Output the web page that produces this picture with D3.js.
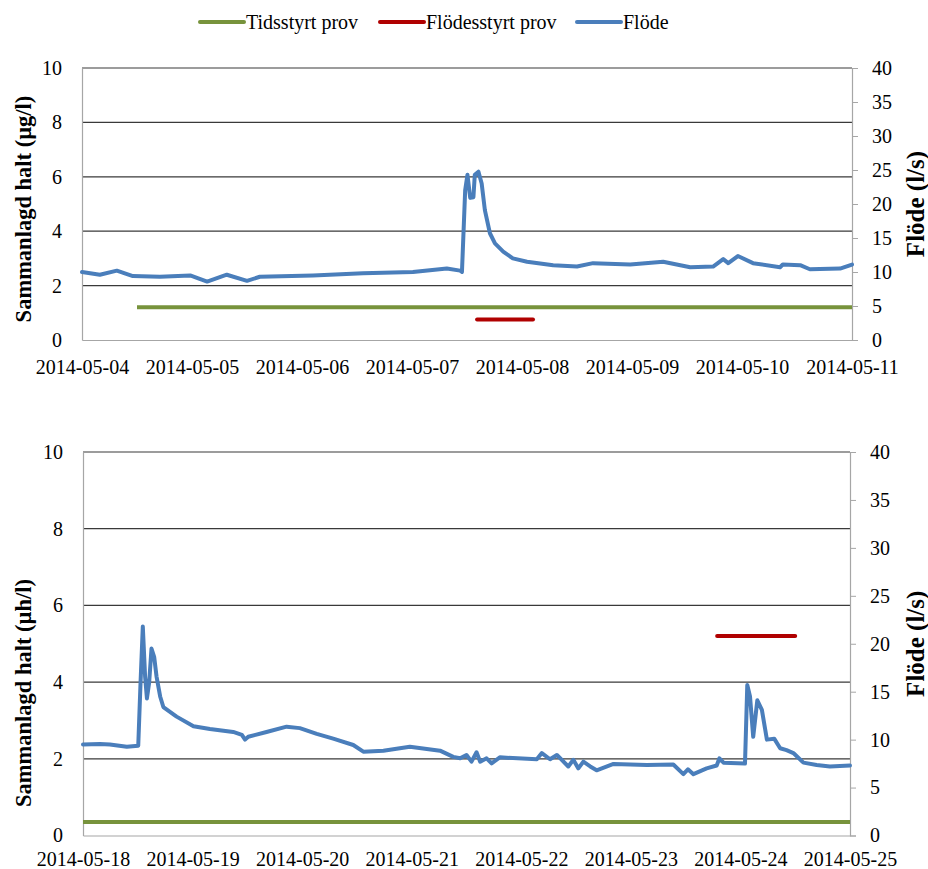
<!DOCTYPE html>
<html><head><meta charset="utf-8">
<script src="https://cdn.jsdelivr.net/npm/d3@7"></script>
<style>body{margin:0;background:#fff}svg{display:block}</style>
</head><body><svg id="c" width="928" height="869"></svg>
<script>
const legendLabels = ["Tidsstyrt prov", "Flödesstyrt prov", "Flöde"];
const seriesColors = ["#77933C", "#B00000", "#4A7EBB"];
const leftTicks = [0, 2, 4, 6, 8, 10];
const rightTicks = [0, 5, 10, 15, 20, 25, 30, 35, 40];
const topStart = "2014-05-04", bottomStart = "2014-05-18";
const topTitleLeft = "Sammanlagd halt  (µg/l)", bottomTitleLeft = "Sammanlagd halt  (µh/l)";
const titleRight = "Flöde (l/s)";

// Top period: hours from 2014-05-04 00:00, flow in l/s
const topFlowHours = [0,3.9,7.6,11.1,17,23.6,27.3,31.6,36,38.8,50.4,61.3,72.2,79.6,82.5,82.9,83.6,84.1,84.7,85.4,85.7,86.5,87.2,87.9,89,90.1,91.9,94,97.1,102.8,108,111.5,119.6,126.8,132.7,137.7,139.9,141,143.1,146.4,152.3,152.9,156.7,158.8,165.4,168];
const topFlowValues = [10.0,9.6,10.2,9.4,9.3,9.5,8.6,9.6,8.7,9.3,9.5,9.8,10.0,10.5,10.2,10.0,22,24.3,20.9,21,24.3,24.75,23,19.1,15.7,14.2,13.0,12.0,11.5,11.0,10.8,11.3,11.1,11.5,10.7,10.8,11.9,11.3,12.35,11.3,10.7,11.1,11.0,10.4,10.5,11.1];
const topTimedHours = [12, 168], topTimedValues = [1.2, 1.2];
const topFlowSampleHours = [86.2, 98.4], topFlowSampleValues = [0.75, 0.75];

// Bottom period: hours from 2014-05-18 00:00
const botFlowHours = [0,3.7,5.9,9.6,12.1,12.6,13.1,13.6,14.0,14.5,15.0,15.6,16.1,16.9,17.6,20.5,24.2,27.8,32.9,34.8,35.5,36.2,40.2,44.6,47.5,51.2,54.8,59.2,61.4,65.8,69.4,71.6,78.2,81.1,82.6,84.0,85.1,86.2,87.0,88.4,89.5,91.3,99.4,100.5,102.3,103.8,106.3,107.4,108.5,109.6,111.1,112.5,116.2,123.5,129.3,131.5,132.5,133.7,136.6,138.8,139.4,140.3,145.0,145.5,146.1,146.8,147.7,148.7,149.8,151.4,152.7,154.1,155.6,157.8,160.7,163.6,168];
const botFlowValues = [9.5,9.54,9.5,9.26,9.37,15.9,21.8,16.6,14.3,16.0,19.5,18.6,16.6,14.5,13.4,12.4,11.4,11.1,10.8,10.5,10.0,10.3,10.8,11.35,11.2,10.6,10.1,9.44,8.74,8.85,9.1,9.26,8.85,8.2,8.05,8.4,7.7,8.68,7.7,8.05,7.53,8.15,7.95,8.6,7.95,8.4,7.2,7.9,7.0,7.7,7.2,6.8,7.46,7.35,7.4,6.4,6.9,6.4,7.0,7.3,8.05,7.6,7.5,15.7,14.5,10.3,14.1,13.1,10.0,10.1,9.1,8.9,8.6,7.6,7.35,7.2,7.3];
const botTimedHours = [0, 168], botTimedValues = [0.35, 0.35];
const botFlowSampleHours = [138.9, 156.0], botFlowSampleValues = [5.2, 5.2];

const svg = d3.select("#c");
const FONT = "'Liberation Serif','Times New Roman',serif";
const parse = d3.utcParse("%Y-%m-%d");
const fmt = d3.utcFormat("%Y-%m-%d");

function panel(cfg) {
  const start = parse(cfg.start);
  const toDate = h => new Date(start.getTime() + h * 3600e3);
  const x = d3.scaleUtc().domain([start, d3.utcDay.offset(start, 7)]).range([cfg.x0, cfg.x1]);
  const yL = d3.scaleLinear().domain([0, 10]).range([cfg.y0, cfg.y1]);
  const yR = d3.scaleLinear().domain([0, 40]).range([cfg.y0, cfg.y1]);
  const g = svg.append("g");

  // gridlines
  g.append("g").selectAll("line").data(leftTicks.filter(d => d > 0)).join("line")
    .attr("x1", cfg.x0).attr("x2", cfg.x1).attr("y1", d => yL(d)).attr("y2", d => yL(d))
    .attr("stroke", "#3a3a3a").attr("stroke-width", 1.2);

  // left axis
  const la = g.append("g").attr("transform", `translate(${cfg.x0},0)`)
    .call(d3.axisLeft(yL).tickValues(leftTicks).tickSize(0).tickPadding(20));
  la.select(".domain").attr("stroke", "#a6a6a6").attr("stroke-width", 1.2);
  la.selectAll("text").attr("font-family", FONT).attr("font-size", 20).attr("fill", "#000");

  // right axis
  const ra = g.append("g").attr("transform", `translate(${cfg.x1},0)`)
    .call(d3.axisRight(yR).tickValues(rightTicks).tickSize(6).tickPadding(14));
  ra.select(".domain").attr("stroke", "#a6a6a6").attr("stroke-width", 1.2);
  ra.selectAll(".tick line").attr("stroke", "#a6a6a6");
  ra.selectAll("text").attr("font-family", FONT).attr("font-size", 20).attr("fill", "#000");

  // bottom axis
  const ba = g.append("g").attr("transform", `translate(0,${cfg.y0})`)
    .call(d3.axisBottom(x).ticks(d3.utcDay.every(1)).tickFormat(fmt).tickSize(0).tickPadding(cfg.xpad));
  ba.select(".domain").attr("stroke", "#a6a6a6").attr("stroke-width", 1.2);
  ba.selectAll("text").attr("font-family", FONT).attr("font-size", 20).attr("fill", "#000");

  // flow series on right axis
  const lineR = d3.line().x(d => x(toDate(d[0]))).y(d => yR(d[1]));
  g.append("path").attr("d", lineR(d3.zip(cfg.flowH, cfg.flowV)))
    .attr("fill", "none").attr("stroke", seriesColors[2]).attr("stroke-width", 4)
    .attr("stroke-linejoin", "round").attr("stroke-linecap", "round");
  const lineL = d3.line().x(d => x(toDate(d[0]))).y(d => yL(d[1]));
  g.append("path").attr("d", lineL(d3.zip(cfg.timedH, cfg.timedV)))
    .attr("fill", "none").attr("stroke", seriesColors[0]).attr("stroke-width", 4);
  g.append("path").attr("d", lineL(d3.zip(cfg.sampH, cfg.sampV)))
    .attr("fill", "none").attr("stroke", seriesColors[1]).attr("stroke-width", 4).attr("stroke-linecap", "round");

  // titles
  svg.append("text").attr("transform", `translate(31,${cfg.ltY}) rotate(-90)`)
    .attr("text-anchor", "middle").attr("font-family", FONT).attr("font-weight", "bold")
    .attr("font-size", 22.5).text(cfg.ltitle);
  svg.append("text").attr("transform", `translate(924,${(cfg.y0 + cfg.y1) / 2}) rotate(-90)`)
    .attr("text-anchor", "middle").attr("font-family", FONT).attr("font-weight", "bold")
    .attr("font-size", 25).text(titleRight);
}

panel({start: topStart, x0: 82, x1: 852, y0: 340, y1: 68, xpad: 20,
  flowH: topFlowHours, flowV: topFlowValues, timedH: topTimedHours, timedV: topTimedValues,
  sampH: topFlowSampleHours, sampV: topFlowSampleValues, ltitle: topTitleLeft, ltY: 209});
panel({start: bottomStart, x0: 83, x1: 850, y0: 835.5, y1: 452, xpad: 16,
  flowH: botFlowHours, flowV: botFlowValues, timedH: botTimedHours, timedV: botTimedValues,
  sampH: botFlowSampleHours, sampV: botFlowSampleValues, ltitle: bottomTitleLeft, ltY: 693});

// legend
const legX = [200, 380, 577];
const lg = svg.append("g");
legendLabels.forEach((t, i) => {
  lg.append("line").attr("x1", legX[i]).attr("x2", legX[i] + 44).attr("y1", 22).attr("y2", 22)
    .attr("stroke", seriesColors[i]).attr("stroke-width", 4).attr("stroke-linecap", "round");
  lg.append("text").attr("x", legX[i] + 46).attr("y", 29).attr("font-family", FONT)
    .attr("font-size", 20).text(t);
});
</script></body></html>
